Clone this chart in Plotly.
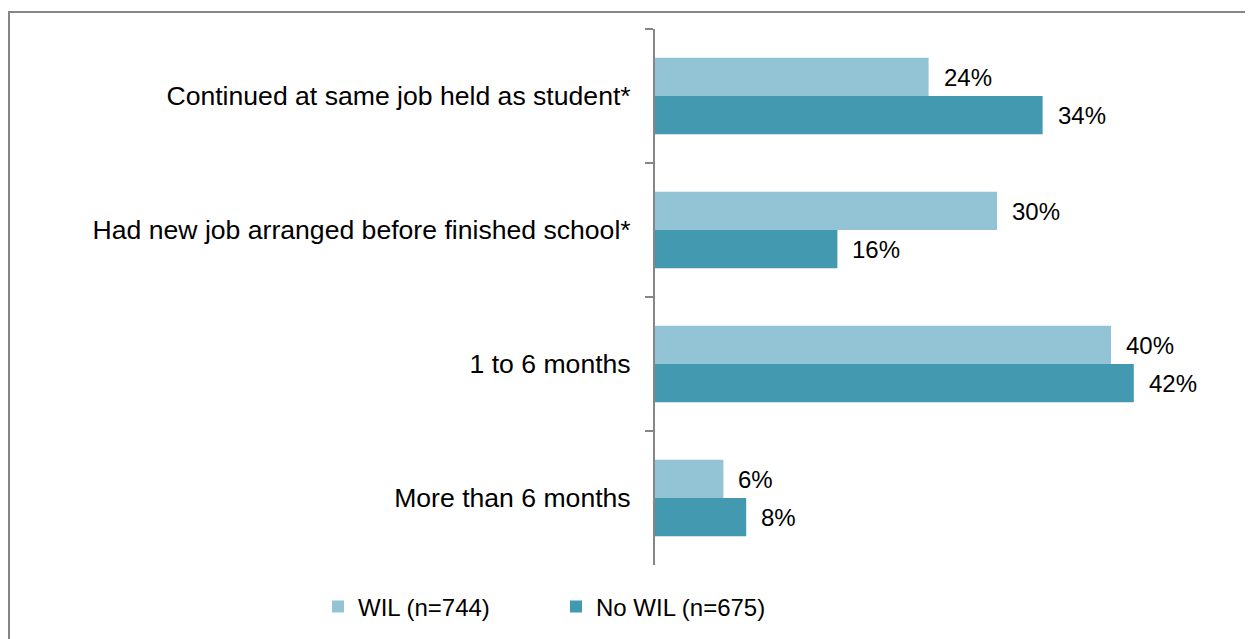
import plotly.graph_objects as go

categories = [
    "Continued at same job held as student*",
    "Had new job arranged before finished school*",
    "1 to 6 months",
    "More than 6 months",
]
wil_values = [24, 30, 40, 6]
nowil_values = [34, 16, 42, 8]
series_names = ["WIL (n=744)", "No WIL (n=675)"]
colors = ["#93C4D5", "#4399AF"]

# page has an 8px body margin; size figure to fill the rest of the window
W, H = 1245, 631
L, R, T, B = 647, 28, 21, 74
pw = W - L - R
ph = H - T - B

fig = go.Figure()
for name, vals, col in zip(series_names, [wil_values, nowil_values], colors):
    fig.add_trace(go.Bar(
        y=categories, x=vals, name=name, orientation="h",
        marker=dict(color=col, line=dict(width=0)),
    ))

# value labels
for vals, shift in [(wil_values, 19), (nowil_values, -19)]:
    for c, v in zip(categories, vals):
        fig.add_annotation(x=v, y=c, text=f"{v}%", showarrow=False,
                           xanchor="left", xshift=13, yshift=shift,
                           font=dict(size=24, color="#000000"))

def px(xp):
    return (xp - L) / pw

def py(yp):
    return (H - B - yp) / ph

fig.add_shape(type="rect", xref="paper", yref="paper",
              x0=px(1), x1=px(1245), y0=py(700), y1=py(4),
              line=dict(color="#868686", width=2), fillcolor="rgba(0,0,0,0)")

fig.update_layout(
    width=W, height=H,
    margin=dict(l=L, r=R, t=T, b=B),
    barmode="group", bargap=0.43, bargroupgap=0,
    plot_bgcolor="white", paper_bgcolor="white",
    font=dict(family="Liberation Sans, Arial, sans-serif", size=24, color="#000000"),
    xaxis=dict(range=[0, 50], visible=False, showgrid=False, zeroline=False),
    yaxis=dict(autorange="reversed", showline=True, linecolor="#868686", linewidth=2,
               ticks="outside", ticklen=8, tickcolor="#868686", tickwidth=2,
               tickson="boundaries", showgrid=False, ticklabelstandoff=17,
               tickfont=dict(size=26.6)),
    legend=dict(orientation="h", xref="container", yref="container",
                x=0.2490, y=0.0507, xanchor="left", yanchor="middle",
                font=dict(size=24), entrywidth=193, entrywidthmode="pixels",
                itemwidth=30),
    showlegend=True,
)

fig.write_html("out.html")
